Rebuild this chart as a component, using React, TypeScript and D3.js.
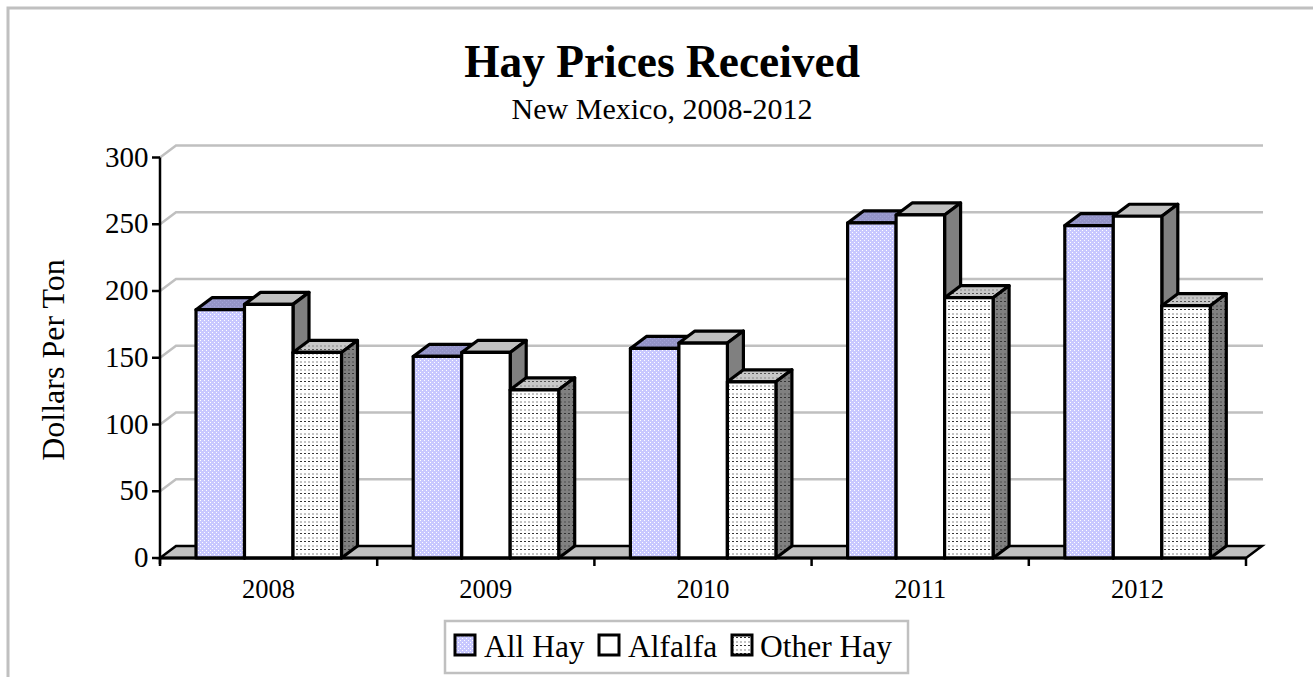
import React from 'react';
import * as d3 from 'd3';

const years = ['2008', '2009', '2010', '2011', '2012'];
const seriesNames = ['All Hay', 'Alfalfa', 'Other Hay'];
const allHay = [186, 151, 157, 251, 249];
const alfalfa = [190, 154, 161, 257, 256];
const otherHay = [154, 126, 132, 195, 189];
const yTicks = [0, 50, 100, 150, 200, 250, 300];

const W = 1313;
const H = 677;
const FONT = '"Liberation Serif", "Times New Roman", serif';
const GREY = '#c0c0c0';
const DX = 16;
const DY = -12;

const x = d3.scaleBand().domain(years).range([160, 1246]).paddingInner(0).paddingOuter(0);
const inner = d3.scaleBand().domain(seriesNames).range([36, 181.5]);
const y = d3.scaleLinear().domain([0, 300]).range([558, 157.5]);

const seriesValues = [allHay, alfalfa, otherHay];
const faces = [
  { front: 'url(#lilac)', top: 'url(#lilacDark)', side: 'url(#lilacDark)' },
  { front: '#ffffff', top: '#c0c0c0', side: '#808080' },
  { front: 'url(#dots)', top: 'url(#dotsMid)', side: 'url(#dotsDark)' },
];

const poly = d3.line();

// rows of dark dashes with softer grey blocks between them
const Dots = ({ id, bg, a, b }: { id: string; bg: string; a: string; b: string }) => (
  <pattern id={id} width="4" height="8" patternUnits="userSpaceOnUse">
    <rect width="4" height="8" fill={bg} />
    <rect x={0} y={1} width={2} height={2} fill={a} />
    <rect x={0} y={5} width={2} height={1} fill={b} />
  </pattern>
);

const Check = ({ id, a, b }: { id: string; a: string; b: string }) => (
  <pattern id={id} width="4" height="4" patternUnits="userSpaceOnUse">
    <rect width="4" height="4" fill={a} />
    <rect x="0" y="0" width="1" height="1" fill={b} />
    <rect x="2" y="2" width="1" height="1" fill={b} />
  </pattern>
);

const legendItems = [
  { name: seriesNames[0], box: 455, text: 484, fill: 'url(#lilac)' },
  { name: seriesNames[1], box: 599, text: 628, fill: '#ffffff' },
  { name: seriesNames[2], box: 732, text: 760, fill: 'url(#dots)' },
];

export default function App() {
  const groupW = x.bandwidth();
  return (
    <svg
      width={W}
      height={H}
      style={{ position: 'absolute', left: 0, top: 0, background: '#fff' }}
      fontFamily={FONT}
    >
      <defs>
        <Check id="lilac" a="#c8c8ff" b="#ffffff" />
        <Check id="lilacDark" a="#9494c8" b="#a4a4d8" />
        <Dots id="dots" bg="#ffffff" a="#c4c4c4" b="#333333" />
        <Dots id="dotsMid" bg="#c8c8c8" a="#a8a8a8" b="#555555" />
        <Dots id="dotsDark" bg="#808080" a="#686868" b="#333333" />
      </defs>

      {/* outer frame, only top and left show */}
      <path d={`M8,${H}V8H${W}`} fill="none" stroke={GREY} strokeWidth={3} />

      <text x={662} y={77} textAnchor="middle" fontSize={45.4} fontWeight="bold">
        Hay Prices Received
      </text>
      <text x={662} y={119} textAnchor="middle" fontSize={30}>
        New Mexico, 2008-2012
      </text>

      {/* gridlines on the back wall */}
      {yTicks.slice(1).map((t) => (
        <path
          key={t}
          d={poly([
            [160, y(t)],
            [160 + DX, y(t) + DY],
            [1263, y(t) + DY],
          ]) as string}
          fill="none"
          stroke={GREY}
          strokeWidth={2.5}
        />
      ))}

      {/* floor */}
      <path
        d={poly([
          [160, y(0)],
          [160 + DX, y(0) + DY],
          [1246 + DX, y(0) + DY],
          [1246, y(0)],
        ]) as string + 'Z'}
        fill={GREY}
        stroke="#000"
        strokeWidth={2.5}
      />

      {/* bars, drawn back to front left to right */}
      {years.map((yr, i) => (
        <g key={yr}>
          {seriesNames.map((s, j) => {
            const x0 = (x(yr) as number) + (inner(s) as number);
            const x1 = x0 + inner.bandwidth();
            const top = y(seriesValues[j][i]);
            const bottom = y(0);
            const f = faces[j];
            return (
              <g key={s} stroke="#000" strokeWidth={3.2} strokeLinejoin="round">
                <path
                  d={poly([
                    [x0, top],
                    [x0 + DX, top + DY],
                    [x1 + DX, top + DY],
                    [x1, top],
                  ]) as string + 'Z'}
                  fill={f.top}
                />
                <path
                  d={poly([
                    [x1, top],
                    [x1 + DX, top + DY],
                    [x1 + DX, bottom + DY],
                    [x1, bottom],
                  ]) as string + 'Z'}
                  fill={f.side}
                />
                <rect x={x0} y={top} width={x1 - x0} height={bottom - top} fill={f.front} />
              </g>
            );
          })}
        </g>
      ))}

      {/* axes */}
      <path d={`M160,${y(300)}V${y(0) + 6}`} stroke="#000" strokeWidth={2.5} fill="none" />
      <path d={`M160,${y(0)}H1246`} stroke="#000" strokeWidth={3} fill="none" />
      {yTicks.map((t) => (
        <g key={t}>
          <line x1={152} x2={160} y1={y(t)} y2={y(t)} stroke="#000" strokeWidth={2.5} />
          <text x={148.5} y={y(t) + 9} textAnchor="end" fontSize={29}>
            {t}
          </text>
        </g>
      ))}
      {years.map((yr) => (
        <text
          key={yr}
          x={(x(yr) as number) + groupW / 2}
          y={598}
          textAnchor="middle"
          fontSize={26.5}
        >
          {yr}
        </text>
      ))}
      {[...years, 'end'].map((yr, i) => {
        const tx = 160 + i * groupW;
        return <line key={yr} x1={tx} x2={tx} y1={y(0)} y2={y(0) + 8} stroke="#000" strokeWidth={2.5} />;
      })}

      <text
        transform="translate(64,360) rotate(-90)"
        textAnchor="middle"
        fontSize={32}
      >
        Dollars Per Ton
      </text>

      {/* legend */}
      <rect x={445} y={621} width={463} height={52} fill="#fff" stroke={GREY} strokeWidth={2.5} />
      {legendItems.map((l) => (
        <g key={l.name}>
          <rect x={l.box} y={635} width={20} height={20} fill={l.fill} stroke="#000" strokeWidth={3} />
          <text x={l.text} y={657} fontSize={31.5}>
            {l.name}
          </text>
        </g>
      ))}
    </svg>
  );
}
